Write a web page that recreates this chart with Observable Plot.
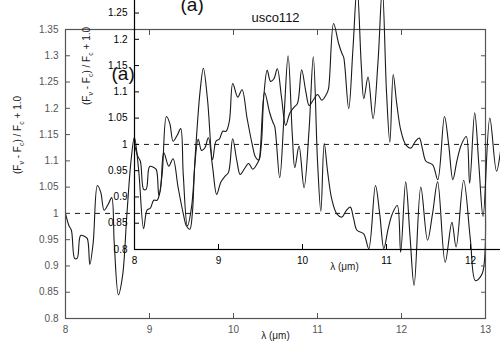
<!DOCTYPE html>
<html><head><meta charset="utf-8">
<script src="https://cdn.jsdelivr.net/npm/d3@7"></script>
<script src="https://cdn.jsdelivr.net/npm/@observablehq/plot@0.6"></script>
<style>
body{margin:0;background:#fff;}
#wrap{position:relative;width:500px;height:350px;overflow:hidden;background:#fff;}
.layer{position:absolute;width:500px;height:350px;}
</style></head><body>
<div id="wrap">
  <div class="layer" id="outer" style="left:0;top:0"></div>
  <div class="layer" id="inner" style="left:69px;top:-69px"></div>
</div>
<script>
const wavelength = [8.00,8.04,8.07,8.11,8.14,8.18,8.23,8.26,8.29,8.33,8.38,8.42,8.46,8.51,8.55,8.58,8.63,8.68,8.73,8.78,8.82,8.87,8.93,8.97,9.01,9.05,9.09,9.13,9.17,9.23,9.28,9.34,9.40,9.44,9.48,9.51,9.54,9.58,9.62,9.66,9.70,9.75,9.80,9.85,9.90,9.94,9.99,10.04,10.08,10.13,10.18,10.23,10.29,10.31,10.37,10.43,10.47,10.49,10.55,10.60,10.65,10.70,10.73,10.78,10.84,10.90,10.95,11.00,11.04,11.08,11.12,11.17,11.23,11.29,11.34,11.39,11.43,11.47,11.55,11.61,11.69,11.74,11.79,11.84,11.89,11.95,11.99,12.05,12.10,12.15,12.23,12.31,12.37,12.43,12.52,12.60,12.65,12.74,12.82,12.88,12.96,13.00];
const flux = [1.000,0.977,0.968,0.914,0.915,0.958,0.956,0.952,0.903,0.945,1.053,1.040,1.006,1.018,1.030,0.944,0.845,0.882,0.996,1.100,1.145,1.084,0.971,1.006,1.010,1.025,1.025,1.045,1.116,1.090,1.104,1.050,1.001,0.976,0.970,1.000,1.093,1.141,1.120,1.125,1.144,1.090,1.036,1.060,1.071,1.078,1.142,1.100,1.074,1.085,1.095,1.084,1.097,1.106,1.230,1.192,1.173,1.166,1.068,1.180,1.300,1.150,1.087,1.128,1.049,1.160,1.298,1.100,1.004,1.133,1.080,1.027,0.999,0.993,1.005,1.012,0.990,0.968,0.961,0.933,1.053,1.000,0.933,0.970,0.999,1.015,0.926,1.060,0.960,0.863,1.050,0.949,1.000,1.060,0.907,0.983,0.936,1.063,0.950,0.872,0.885,0.999];
const xTicks = [8, 9, 10, 11, 12, 13];
const yTicks = [0.8, 0.85, 0.9, 0.95, 1, 1.05, 1.1, 1.15, 1.2, 1.25, 1.3, 1.35];
const continuumLevel = [1];
const title = "usco112";
const panelLabel = "(a)";
const xLabel = "λ (μm)";
const yLabel = "(F_ν - F_c) / F_c + 1.0";

function chart(frameColor, ink) {
  const data = wavelength.map((w, i) => ({w, f: flux[i]}));
  const fmt = d => String(+d.toFixed(2));
  const svg = Plot.plot({
    width: 500, height: 350,
    marginLeft: 65, marginRight: 15, marginTop: 29, marginBottom: 32,
    style: "background:transparent;overflow:visible;font-family:'Liberation Sans',Arial,sans-serif;font-size:10px;",
    x: {domain: [8, 13], label: null},
    y: {domain: [0.8, 1.35], label: null},
    marks: [
      Plot.ruleY(continuumLevel, {stroke: ink, strokeDasharray: "5,5", strokeWidth: 1}),
      Plot.line(data, {x: "w", y: "f", stroke: ink, strokeWidth: 1.1, curve: "catmull-rom"}),
      Plot.axisX({anchor: "bottom", ticks: xTicks, tickFormat: fmt, tickSize: -5, tickPadding: 12, color: frameColor, label: null}),
      Plot.axisX({anchor: "top", ticks: xTicks, tickFormat: () => "", tickSize: -5, color: frameColor, label: null}),
      Plot.axisY({anchor: "left", ticks: yTicks, tickFormat: fmt, tickSize: -5, tickPadding: 12, color: frameColor, label: null}),
      Plot.axisY({anchor: "right", ticks: yTicks, tickFormat: () => "", tickSize: -5, color: frameColor, label: null}),
      Plot.frame({stroke: frameColor, strokeWidth: 1.2}),
      Plot.text([title], {frameAnchor: "top", dy: -17, fontSize: 13, fill: "#111"}),
      Plot.text([panelLabel], {frameAnchor: "top-left", dx: 46, dy: 37, textAnchor: "start", fontSize: 19, fill: "#111"}),
      Plot.text([xLabel], {frameAnchor: "bottom", dy: 20, fontSize: 10, fill: "#222"}),
      Plot.text([yLabel], {frameAnchor: "left", dx: -48, rotate: -90, fontSize: 10, fill: "#222"})
    ]
  });
  // render subscripts in the y label as real text
  d3.select(svg).selectAll("text").filter(function() { return this.textContent === yLabel; })
    .each(function() {
      const t = d3.select(this);
      t.text(null);
      const parts = [["(F", 0], ["ν", 1], [" - F", 0], ["c", 1], [") / F", 0], ["c", 1], [" + 1.0", 0]];
      let prevSub = 0;
      for (const [s, sub] of parts) {
        const ts = t.append("tspan").text(s);
        const dy = (sub - prevSub) * 3;
        if (dy) ts.attr("dy", dy);
        if (sub) ts.attr("font-size", 7);
        prevSub = sub;
      }
    });
  return svg;
}

document.getElementById("outer").appendChild(chart("#555", "#1a1a1a"));
document.getElementById("inner").appendChild(chart("#000", "#1a1a1a"));
</script>
</body></html>
